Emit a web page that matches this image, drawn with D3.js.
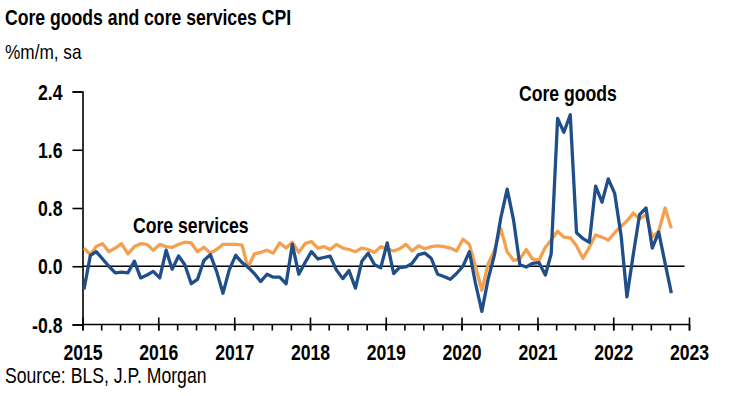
<!DOCTYPE html>
<html>
<head>
<meta charset="utf-8">
<script src="https://cdn.jsdelivr.net/npm/d3@7"></script>
<style>
  html, body { margin: 0; padding: 0; background: #fff; }
  svg { display: block; }
  text { font-family: "Liberation Sans", Arial, Helvetica, sans-serif; }
</style>
</head>
<body>
<svg id="chart" width="732" height="396"></svg>
<script>
// ---- Data (monthly, % m/m, sa), Jan 2015 .. Oct 2022 ----
const firstMonth = "2015-01";
const coreGoods = [
  // 2015
  -0.32, 0.15, 0.20, 0.10, 0.00, -0.09, -0.08, -0.09, 0.07, -0.16, -0.12, -0.07,
  // 2016
  -0.16, 0.22, -0.04, 0.14, 0.02, -0.24, -0.18, 0.08, 0.16, -0.07, -0.37, -0.05,
  // 2017
  0.15, 0.05, -0.01, -0.10, -0.21, -0.11, -0.15, -0.15, -0.24, 0.30, -0.11, 0.05,
  // 2018
  0.20, 0.10, 0.12, 0.14, -0.05, -0.17, -0.06, -0.30, 0.07, 0.18, 0.02, -0.02,
  // 2019
  0.32, -0.10, -0.02, -0.01, 0.04, 0.16, 0.18, 0.11, -0.11, -0.14, -0.18, -0.10,
  // 2020
  0.00, 0.20, -0.23, -0.62, -0.18, 0.16, 0.66, 1.06, 0.63, 0.02, -0.01, 0.04,
  // 2021
  0.05, -0.12, 0.17, 2.03, 1.84, 2.08, 0.46, 0.38, 0.33, 1.10, 0.88, 1.20,
  // 2022
  1.00, 0.42, -0.42, 0.17, 0.71, 0.80, 0.25, 0.47, 0.04, -0.37
];
const coreServices = [
  // 2015
  0.25, 0.16, 0.27, 0.31, 0.20, 0.25, 0.31, 0.17, 0.27, 0.31, 0.30, 0.22,
  // 2016
  0.30, 0.27, 0.26, 0.30, 0.33, 0.32, 0.20, 0.26, 0.18, 0.23, 0.30, 0.30,
  // 2017
  0.30, 0.29, -0.02, 0.17, 0.19, 0.22, 0.18, 0.32, 0.25, 0.33, 0.19, 0.31,
  // 2018
  0.34, 0.25, 0.27, 0.23, 0.30, 0.25, 0.23, 0.20, 0.25, 0.23, 0.19, 0.27,
  // 2019
  0.24, 0.21, 0.24, 0.30, 0.21, 0.28, 0.24, 0.27, 0.28, 0.27, 0.25, 0.21,
  // 2020
  0.37, 0.30, 0.00, -0.33, 0.03, 0.22, 0.52, 0.20, 0.08, 0.10, 0.23, 0.10,
  // 2021
  0.08, 0.26, 0.36, 0.48, 0.40, 0.39, 0.28, 0.11, 0.26, 0.43, 0.40, 0.36,
  // 2022
  0.46, 0.55, 0.62, 0.73, 0.65, 0.71, 0.40, 0.48, 0.80, 0.52
];
const yTicks = [-0.8, 0.0, 0.8, 1.6, 2.4];
const yearTicks = ["2015", "2016", "2017", "2018", "2019", "2020", "2021", "2022", "2023"];
const seriesNames = ["Core goods", "Core services"];
const seriesColors = ["#1f4e89", "#f4a04f"];

// ---- Layout ----
const svg = d3.select("#chart");
const plot = { left: 82.5, right: 689, top: 91.5, bottom: 324.5 };
const NARROW = 0.82;   // horizontal condensing (narrow-face look)
const FS = 21.5;

function label(x0, y0, txt, size, weight, anchor) {
  return svg.append("text")
    .attr("transform", `translate(${x0},${y0}) scale(${NARROW},1)`)
    .attr("font-size", size).attr("font-weight", weight)
    .attr("text-anchor", anchor || "start").attr("fill", "#000")
    .text(txt);
}

const parse = d3.timeParse("%Y-%m");
const start = parse(firstMonth);
const months = d3.range(coreGoods.length).map(i => d3.timeDay.offset(d3.timeMonth.offset(start, i), 7));

const x = d3.scaleTime()
  .domain([parse(yearTicks[0] + "-01"), parse(yearTicks[yearTicks.length - 1] + "-01")])
  .range([plot.left, plot.right]);
const y = d3.scaleLinear().domain([-0.8, 2.4]).range([plot.bottom, plot.top]);

// Title & subtitle
label(5, 25, "Core goods and core services CPI", FS, "bold");
label(5, 59, "%m/m, sa", 21, "normal");

// Y axis
const yAxis = d3.axisLeft(y).tickValues(yTicks).tickSize(10).tickPadding(9)
  .tickFormat(d => d.toFixed(1));
const gy = svg.append("g").attr("transform", `translate(${plot.left},0)`).call(yAxis);
gy.select(".domain").attr("stroke", "#000").attr("stroke-width", 1.6);
gy.selectAll(".tick line").attr("stroke", "#000").attr("stroke-width", 1.6);
gy.selectAll(".tick text")
  .attr("x", null).attr("dy", "0.36em")
  .attr("transform", `translate(-20,0) scale(${NARROW},1)`)
  .attr("font-size", FS).attr("font-weight", "bold")
  .attr("fill", "#000").attr("font-family", "Liberation Sans, Arial, sans-serif");

// X axis: minor quarterly ticks (below), major yearly ticks (crossing)
const quarters = d3.timeMonth.every(3).range(x.domain()[0], d3.timeDay.offset(x.domain()[1], 1));
const xMinor = d3.axisBottom(x).tickValues(quarters).tickSize(6).tickFormat("");
const gxm = svg.append("g").attr("transform", `translate(0,${plot.bottom})`).call(xMinor);
gxm.select(".domain").attr("stroke", "#000").attr("stroke-width", 1.6)
  .attr("d", `M${plot.left},0H${plot.right + 1}`);
gxm.selectAll(".tick line").attr("stroke", "#000").attr("stroke-width", 1.6);

const yearDates = yearTicks.map(t => parse(t + "-01"));
const xMajor = d3.axisBottom(x).tickValues(yearDates).tickSize(13)
  .tickFormat(d3.timeFormat("%Y"));
const gx = svg.append("g").attr("transform", `translate(0,${plot.bottom - 7})`).call(xMajor);
gx.select(".domain").remove();
gx.selectAll(".tick line").attr("stroke", "#000").attr("stroke-width", 1.6);
gx.selectAll(".tick text")
  .attr("y", null).attr("dy", null)
  .attr("transform", `translate(0,${360 - (plot.bottom - 7)}) scale(${NARROW},1)`)
  .attr("font-size", FS).attr("font-weight", "bold")
  .attr("fill", "#000").attr("font-family", "Liberation Sans, Arial, sans-serif");

// Zero line
svg.append("line")
  .attr("x1", plot.left).attr("x2", x(parse("2022-12")) + 2)
  .attr("y1", y(0)).attr("y2", y(0))
  .attr("stroke", "#000").attr("stroke-width", 1.6);

// Lines
const line = d3.line().x((d, i) => x(months[i])).y(d => y(d)).curve(d3.curveLinear);
svg.append("path").datum(coreServices)
  .attr("fill", "none").attr("stroke", seriesColors[1]).attr("stroke-width", 3.3)
  .attr("stroke-linejoin", "round").attr("d", line);
svg.append("path").datum(coreGoods)
  .attr("fill", "none").attr("stroke", seriesColors[0]).attr("stroke-width", 3.3)
  .attr("stroke-linejoin", "round").attr("d", line);

// Series labels
label(133, 233, seriesNames[1], FS, "bold");
label(519, 101, seriesNames[0], FS, "bold");

// Source
label(5, 383, "Source: BLS, J.P. Morgan", 21.5, "normal");
</script>
</body>
</html>
